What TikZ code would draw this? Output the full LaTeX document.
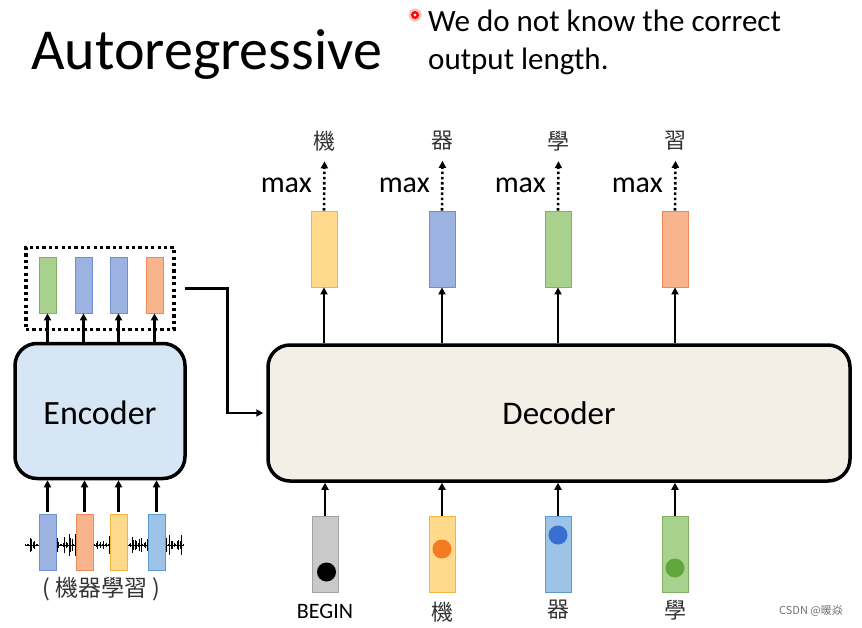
\documentclass[tikz,border=0pt]{standalone}
\usepackage{fontspec}
\setmainfont{Carlito}
\newfontfamily\cjk{Noto Sans CJK TC}
\usetikzlibrary{arrows.meta,calc}
\definecolor{yfill}{HTML}{FFD98C}\definecolor{ydraw}{HTML}{F2B53F}
\definecolor{bfill}{HTML}{9CB3E2}\definecolor{bdraw}{HTML}{6E8FD2}
\definecolor{gfill}{HTML}{A9D18E}\definecolor{gdraw}{HTML}{80B262}
\definecolor{ofill}{HTML}{F8B48C}\definecolor{odraw}{HTML}{EE8A58}
\definecolor{lbfill}{HTML}{9DC3E6}\definecolor{lbdraw}{HTML}{5B9BD5}
\definecolor{grfill}{HTML}{C9C9C9}\definecolor{grdraw}{HTML}{A3A3A3}
\definecolor{encfill}{HTML}{D6E6F4}
\definecolor{decfill}{HTML}{F3EEE6}
\definecolor{ballo}{HTML}{F37B22}
\definecolor{ballb}{HTML}{3A6FD2}
\definecolor{ballg}{HTML}{64A63E}
\begin{document}
\begin{tikzpicture}[x=1pt,y=-1pt,
  sbar/.style={rectangle,inner sep=0pt,minimum width=17pt,minimum height=56pt,line width=0.8pt},
  dbar/.style={rectangle,inner sep=0pt,minimum width=26pt,minimum height=76pt,line width=0.8pt},
  bigbox/.style={rectangle,rounded corners=22pt,draw=black,line width=3.5pt,inner sep=0pt},
  arr/.style={line width=2.6pt,-{Triangle[length=7pt,width=7pt]}},
  dotarr/.style={line width=2.6pt,dash pattern=on 2.6pt off 2.6pt,-{Triangle[length=7pt,width=7pt]}},
  lbl/.style={inner sep=0pt},
  cjkl/.style={inner sep=0pt,font=\cjk\fontsize{22}{26}\selectfont,text=black!80},
  ball/.style={circle,inner sep=0pt,minimum size=19pt}
]
\useasboundingbox[fill=white] (0,0) rectangle (862,628);

% title and bullet
\node[lbl,anchor=base west,font=\fontsize{58}{62}\selectfont] (title) at (31,70) {Autoregressive};
\fill[red!25] (415,15) circle (6.5pt);
\fill[red] (415,15) circle (4pt);
\fill[white] (415,15) circle (1.6pt);
\node[lbl,anchor=base west,font=\fontsize{31}{38}\selectfont] (bl1) at (428,32) {We do not know the correct};
\node[lbl,anchor=base west,font=\fontsize{31}{38}\selectfont] (bl2) at (428,70) {output length.};

% ---------- Encoder ----------
\node[bigbox,fill=encfill,minimum width=170pt,minimum height=135pt] (enc) at (100,411) {};
\node[lbl,font=\fontsize{34}{40}\selectfont] (enct) at (100,413) {Encoder};

% waveform
\pgfmathsetseed{7}
\foreach \i in {0,...,105}{
  \pgfmathsetmacro\xx{25.5+1.5*\i}
  \pgfmathsetmacro\h{(1+17*rnd*rnd)*(0.3+0.7*abs(sin(\i*8)))}
  \draw[line width=0.8pt] (\xx,545-\h) -- (\xx,545+\h);
}
\draw[line width=1pt] (25,545) -- (183,545);

% encoder inputs
\node[sbar,fill=bfill,draw=bdraw] (i1) at (47.5,542) {};
\node[sbar,fill=ofill,draw=odraw] (i2) at (84.5,542) {};
\node[sbar,fill=yfill,draw=ydraw] (i3) at (118.5,542) {};
\node[sbar,fill=lbfill,draw=lbdraw] (i4) at (156.5,542) {};
\foreach \n in {i1,i2,i3,i4}{
  \draw[arr] ([yshift=2pt]\n.north) -- (\n.north |- enc.south);
}
\node[lbl,font=\cjk\fontsize{23}{26}\selectfont,text=black!80] (inlbl) at (101,589) {(\ 機器學習\ )};

% encoder outputs
\node[sbar,fill=gfill,draw=gdraw] (e1) at (47.5,285) {};
\node[sbar,fill=bfill,draw=bdraw] (e2) at (83.5,285) {};
\node[sbar,fill=bfill,draw=bdraw] (e3) at (118.5,285) {};
\node[sbar,fill=ofill,draw=odraw] (e4) at (154.5,285) {};
\foreach \n in {e1,e2,e3,e4}{
  \draw[arr] (\n.south |- enc.north) -- (\n.south);
}
\node[rectangle,draw=black,line width=3.2pt,dash pattern=on 3.2pt off 3.2pt,minimum width=148pt,minimum height=82pt,inner sep=0pt] (db) at (100,288.5) {};

% ---------- Decoder ----------
\node[bigbox,fill=decfill,minimum width=582pt,minimum height=136pt] (dec) at (559,413) {};
\node[lbl,font=\fontsize{33}{40}\selectfont] (dect) at (559,413) {Decoder};

% connector encoder -> decoder
\draw[line width=2.6pt,-{Triangle[length=7pt,width=7pt]},shorten >=3pt] ([xshift=9pt]db.east) -- ++(43,0) |- (dec.west);

% decoder outputs
\foreach \n/\x/\f/\d/\c in {o1/324/yfill/ydraw/機, o2/442/bfill/bdraw/器, o3/558/gfill/gdraw/學, o4/675/ofill/odraw/習}{
  \node[dbar,fill=\f,draw=\d] (\n) at (\x,249) {};
  \draw[arr] (\n.south |- dec.north) -- (\n.south);
  \node[cjkl] (\n c) at (\x+0.5,141) {\c};
  \draw[dotarr] (\n.north) -- ([yshift=-10pt]\n c.south);
  \node[lbl,anchor=base east,font=\fontsize{30}{36}\selectfont] (\n m) at (\x-12,193) {max};
}

% decoder inputs
\node[dbar,fill=grfill,draw=grdraw] (d1) at (325,554) {};
\node[dbar,fill=yfill,draw=ydraw] (d2) at (442,554) {};
\node[dbar,fill=lbfill,draw=lbdraw] (d3) at (558,554) {};
\node[dbar,fill=gfill,draw=gdraw] (d4) at (675,554) {};
\node[ball,fill=black] (b1) at (326.5,572) {};
\node[ball,fill=ballo] (b2) at (442,549) {};
\node[ball,fill=ballb] (b3) at (558,535) {};
\node[ball,fill=ballg] (b4) at (675,568) {};
\foreach \n in {d1,d2,d3,d4}{
  \draw[arr] (\n.north) -- (\n.north |- dec.south);
}
\node[lbl,font=\fontsize{22}{26}\selectfont] (l1) at (325,611) {BEGIN};
\node[cjkl] (l2) at (442,612) {機};
\node[cjkl] (l3) at (558,610) {器};
\node[cjkl] (l4) at (675,610) {學};

% watermark
\node[lbl,font=\cjk\fontsize{11}{13}\selectfont,text=black!55] (wm) at (811,611) {CSDN @暖焱};
\end{tikzpicture}
\end{document}
